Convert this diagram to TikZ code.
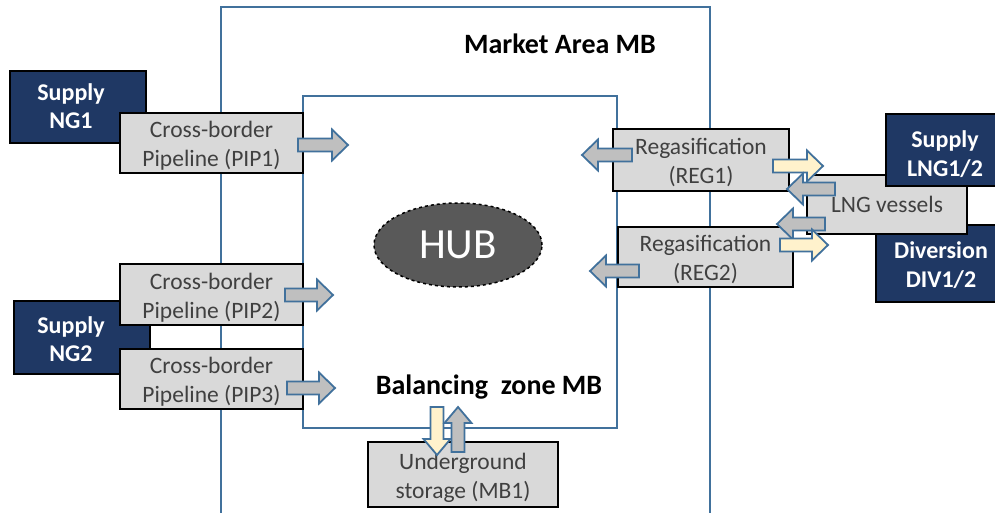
\documentclass[tikz,border=0pt]{standalone}
\usepackage{fontspec}
\setmainfont{Carlito}
\usetikzlibrary{shapes.geometric}
\definecolor{navy}{HTML}{1F3864}
\definecolor{boxgray}{HTML}{D9D9D9}
\definecolor{txtgray}{HTML}{404040}
\definecolor{zoneblue}{HTML}{41719C}
\definecolor{arrgray}{HTML}{BFBFBF}
\definecolor{arryel}{HTML}{FFF2CC}
\definecolor{hubgray}{HTML}{595959}
\tikzset{
 zone/.style={draw=zoneblue,line width=2pt},
 navybox/.style={fill=navy,draw=black,line width=1.3pt,inner sep=0pt},
 navytext/.style={text=white,font=\bfseries\fontsize{24}{28.5}\selectfont,align=center,inner sep=0pt},
 graybox/.style={fill=boxgray,draw=black,line width=1.3pt,text=txtgray,font=\fontsize{23.5}{29}\selectfont,align=center,inner sep=0pt},
 graytext/.style={text=txtgray,font=\fontsize{23.5}{29}\selectfont,align=center,inner sep=0pt,yshift=-3pt},
 titletext/.style={font=\bfseries\fontsize{28}{32}\selectfont,inner sep=0pt},
 arrline/.style={draw=zoneblue,line width=1.8pt,line join=miter},
 pics/harr/.style args={#1/#2/#3}{code={%
   \draw[arrline,fill=#1] (0,-6.5) -- ({#2-16},-6.5) -- ({#2-16},-#3) -- (#2,0)
     -- ({#2-16},#3) -- ({#2-16},6.5) -- (0,6.5) -- cycle;}}
}
\begin{document}
\begin{tikzpicture}[x=1pt,y=-1pt]
\useasboundingbox (0,0) rectangle (995,513);
% zones
\draw[zone] (221,513) -- (221,7) -- (710,7) -- (710,513);
\draw[zone] (303,96) rectangle (617,428);
% navy boxes
\node[navybox,minimum width=136,minimum height=72] (ng1) at (78,107) {};
\node[navybox,minimum width=136,minimum height=73] (ng2) at (82,337.5) {};
\node[navybox,minimum width=124,minimum height=77] (div) at (938,263.5) {};
% gray boxes
\node[graybox,minimum width=160,minimum height=59] (lng) at (887,204.5) {LNG vessels};
\node[navybox,minimum width=114,minimum height=72] (slng) at (943,150) {};
\node[graybox,minimum width=183,minimum height=60] (pip1) at (211.5,143) {};
\node[graybox,minimum width=183,minimum height=61] (pip2) at (211.5,294.5) {};
\node[graybox,minimum width=183,minimum height=60] (pip3) at (211.5,379) {};
\node[graybox,minimum width=176,minimum height=62] (reg1) at (701,160) {};
\node[graybox,minimum width=175,minimum height=60] (reg2) at (705.5,257) {};
\node[graybox,minimum width=190,minimum height=65] (ugs) at (463,474.5) {};
\node[graytext] (pip1t) at (pip1.center) {Cross-border\\Pipeline (PIP1)};
\node[graytext] (pip2t) at (pip2.center) {Cross-border\\Pipeline (PIP2)};
\node[graytext] (pip3t) at (pip3.center) {Cross-border\\Pipeline (PIP3)};
\node[graytext] (reg1t) at (reg1.center) {Regasification\\(REG1)};
\node[graytext] (reg2t) at (reg2.center) {Regasification\\(REG2)};
\node[graytext] (ugst) at (ugs.center) {Underground\\storage (MB1)};
% hub
\node[ellipse,fill=hubgray,draw=black,dashed,line width=1.5pt,minimum width=168,minimum height=84,
      text=white,font=\fontsize{43}{48}\selectfont,inner sep=0pt] (hub) at (458,245) {HUB};
% navy texts
\node[navytext] (t1) at (71,106) {Supply\\NG1};
\node[navytext] (t2) at (71,339) {Supply\\NG2};
\node[navytext] (t3) at (945,154) {Supply\\LNG1/2};
\node[navytext] (t4) at (941,265) {Diversion\\DIV1/2};
% titles
\node[titletext] (ma) at (560,44) {Market Area MB};
\node[titletext] (bz) at (489,387) {Balancing\ \ zone MB};
% arrows
\pic at (298,145) {harr={arrgray/50/15.5}};
\pic at (285,295) {harr={arrgray/48/15.5}};
\pic at (287,388) {harr={arrgray/48/15.5}};
\pic[rotate=180] at (632,155) {harr={arrgray/50/15.5}};
\pic at (773,166) {harr={arryel/50/15.5}};
\pic[rotate=180] at (835,189) {harr={arrgray/48/15.5}};
\pic[rotate=180] at (825,224) {harr={arrgray/48/15.5}};
\pic at (780,245) {harr={arryel/48/15.5}};
\pic[rotate=180] at (639,271) {harr={arrgray/49/15.5}};
\pic[rotate=-90] at (437,407) {harr={arryel/48/13.5}};
\pic[rotate=90] at (458,452) {harr={arrgray/45/13.5}};
\end{tikzpicture}
\end{document}
